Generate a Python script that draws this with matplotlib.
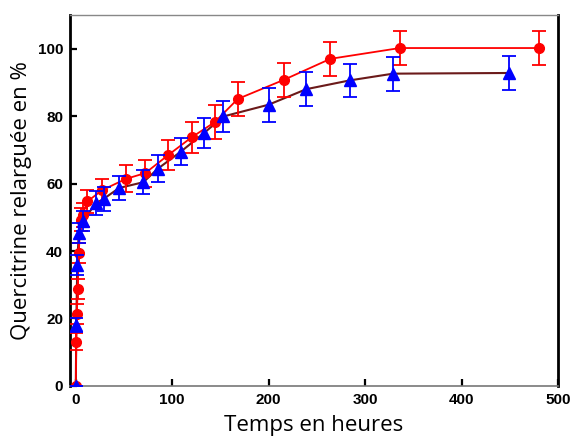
import matplotlib
matplotlib.use("Agg")
import matplotlib.pyplot as plt

# red series (circles)
red_t = [0, 0.5, 1, 2, 3, 5, 7, 12, 27, 52, 72, 96, 120, 144, 168, 216, 264, 336, 480]
red_y = [0, 13.1, 21.3, 28.7, 39.4, 49.3, 50.7, 54.7, 58.0, 61.4, 63.1, 68.5, 73.7, 78.2, 85.1, 90.8, 97.0, 100.2, 100.2]
red_err = [0, 2.5, 3, 3, 3, 3.5, 3.5, 3.5, 3.5, 4, 4, 4.5, 4.5, 5, 5, 5, 5, 5, 5]

# blue series (triangles)
blue_t = [0, 0.5, 1.5, 3, 7, 21, 29, 45, 70, 85, 109, 133, 153, 200, 239, 284, 329, 449]
blue_y = [0, 18.1, 35.9, 45.3, 48.8, 54.2, 55.5, 58.7, 60.4, 64.4, 69.5, 75.0, 79.9, 83.4, 88.0, 90.6, 92.6, 92.8]
blue_err = [0, 2, 3, 3, 3, 3.5, 3.5, 3.5, 3.5, 4, 4, 4.5, 4.5, 5, 5, 5, 5, 5]

fig = plt.figure(figsize=(5.74, 4.41), dpi=100)
ax = fig.add_axes([0.122, 0.125, 0.850, 0.841])

ax.plot(blue_t, blue_y, color="#6b1a1a", lw=1.5, zorder=2)
ax.plot(red_t, red_y, color="red", lw=1.3, zorder=3)
ax.errorbar(red_t, red_y, yerr=red_err, fmt="o", color="red", ms=7,
            ecolor="red", elinewidth=1.3, capsize=5, capthick=1.3, zorder=4)
ax.errorbar(blue_t, blue_y, yerr=blue_err, fmt="^", color="blue", ms=8,
            ecolor="blue", elinewidth=1.3, capsize=5, capthick=1.3, zorder=5)

ax.set_xlim(-6, 500)
ax.set_ylim(0, 110)
ax.set_xticks([0, 100, 200, 300, 400, 500])
ax.set_yticks([0, 20, 40, 60, 80, 100])
ax.tick_params(direction="in", length=5, width=1.6, labelsize=11, pad=5)
for lab in ax.get_xticklabels() + ax.get_yticklabels():
    lab.set_fontweight("bold")
    lab.set_family("Liberation Sans")

ax.spines["left"].set_linewidth(2)
ax.spines["right"].set_linewidth(2)
ax.spines["top"].set_color("#888888")
ax.spines["top"].set_linewidth(1)
ax.spines["bottom"].set_color("#777777")
ax.spines["bottom"].set_linewidth(1.2)

ax.set_xlabel("Temps en heures", fontsize=16, family="Open Sans", labelpad=6)
ax.set_ylabel("Quercitrine relarguée en %", fontsize=16, family="Open Sans", labelpad=4)

fig.savefig("out.png", dpi=100)
